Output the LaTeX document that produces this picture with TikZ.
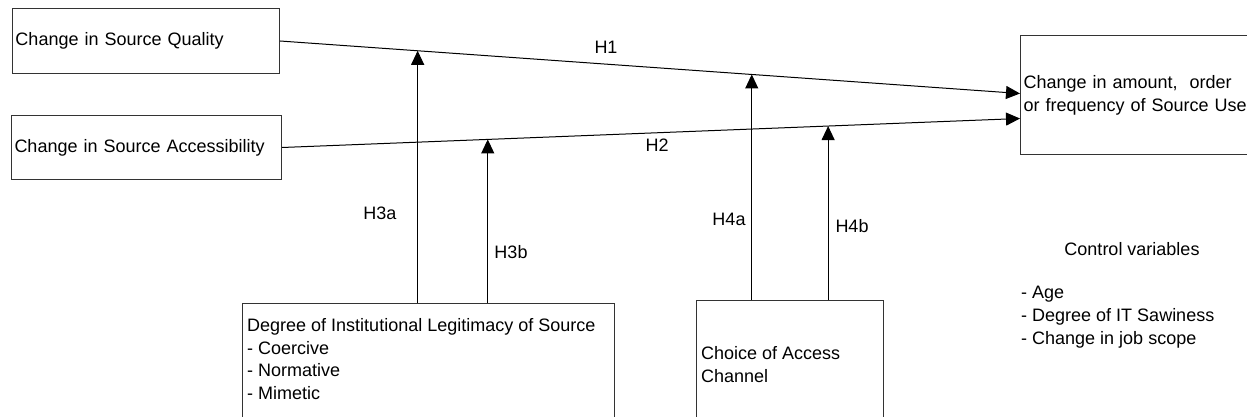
\documentclass[tikz,border=0pt]{standalone}
\usepackage{fontspec}
\setmainfont{Liberation Sans}
\usetikzlibrary{arrows.meta}
\begin{document}
\begin{tikzpicture}[x=1pt,y=-1pt,
        box/.style={draw=black!80,line width=1pt,anchor=north west,align=left,inner xsep=3pt,inner ysep=0pt,font=\fontsize{18}{22.7}\selectfont},
        txt/.style={inner sep=0pt,align=left,font=\fontsize{18}{22.7}\selectfont},
        conn/.style={line width=1pt,-{Triangle[length=14pt,width=13pt]}}]
                \useasboundingbox (0,0) rectangle (1247,417);
                \clip (0,0) rectangle (1247,417);
                \node[box,text width=261pt,minimum height=65pt] (quality) at (12,8) {Change in Source Quality};
                \node[box,text width=264pt,minimum height=64pt] (access) at (11,115) {Change in Source Accessibility};
                \node[box,text width=234pt,minimum height=119pt] (use) at (1020,35) {Change in amount,~ order\\or frequency of Source Use};
                \node[box,minimum width=372pt,minimum height=140pt] (legit) at (242,303) {};
                \node[txt,anchor=west] (legittext) at (247,359) {Degree of Institutional Legitimacy of Source\\- Coercive\\- Normative\\- Mimetic};
                \node[box,minimum width=187pt,minimum height=140pt] (channel) at (696,300) {};
                \node[txt,anchor=west] (channeltext) at (701,364.5) {Choice of Access\\Channel};
                \node[txt] (ctrl) at (1132,249) {Control variables};
                \node[txt,anchor=west] (ctrllist) at (1021,317) {- Age\\- Degree of IT Sawiness\\- Change in job scope};
                \draw[conn] (quality.east) -- coordinate[pos=0.186] (h3a) coordinate[pos=0.6375] (h4a) ([yshift=1.5pt]use.west);
                \draw[conn] (access.east) -- coordinate[pos=0.2788] (h3b) coordinate[pos=0.740] (h4b) ([yshift=-23.5pt]use.west);
                \draw[conn] (h3a |- legit.north) -- (h3a);
                \draw[conn] (h3b |- legit.north) -- (h3b);
                \draw[conn] (h4a |- channel.north) -- (h4a);
                \draw[conn] (h4b |- channel.north) -- (h4b);
                \node[txt] (h1) at (606,47) {H1};
                \node[txt] (h2) at (657,145) {H2};
                \node[txt] (h3alabel) at (380,213) {H3a};
                \node[txt] (h3blabel) at (511,252) {H3b};
                \node[txt] (h4alabel) at (729,219) {H4a};
                \node[txt] (h4blabel) at (852,226) {H4b};
            \end{tikzpicture}
\end{document}
